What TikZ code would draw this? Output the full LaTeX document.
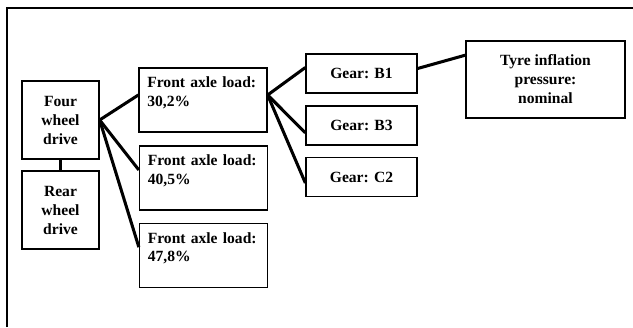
\documentclass[tikz,border=0pt]{standalone}
\usepackage{fontspec}
\setmainfont{Liberation Serif}
\begin{document}
\begin{tikzpicture}[x=0.03cm, y=-0.03cm,
  every node/.style={font=\bfseries\fontsize{13.3}{16.2}\selectfont},
  optbox/.style={draw,line width=1.1pt,align=center,inner sep=0pt},
  loadbox/.style={draw,line width=1.1pt,align=left,inner xsep=0.25cm,inner ysep=0.15cm,text width=3.34cm,text height=0.435cm,text depth=1.185cm},
  link/.style={line width=2.6pt}]
\useasboundingbox (0,0) rectangle (633,327);
% frame
\draw[line width=1.2pt] (7,327) -- (7,8) -- (633,8);
% drive
\node[optbox,minimum width=2.31cm,minimum height=2.34cm] (fwd) at (60.5,120) {Four\\ wheel\\ drive};
\node[optbox,minimum width=2.31cm,minimum height=2.34cm] (rwd) at (60.5,210) {Rear\\ wheel\\ drive};
\draw[link] (fwd.south) -- (rwd.north);
% front axle load
\node[loadbox] (fa1) at (203,100) {Front axle load:\\ 30,2\%};
\node[loadbox] (fa2) at (203.5,178) {Front axle load:\\ 40,5\%};
\node[loadbox] (fa3) at (203.5,255.5) {Front axle load:\\ 47,8\%};
\draw[link] (fwd.east) -- ([yshift=0.15cm]fa1.west);
\draw[link] (fwd.east) -- ([yshift=0.24cm]fa2.west);
\draw[link] (fwd.east) -- ([yshift=0.25cm]fa3.west);
% gears
\node[optbox,minimum width=3.33cm,minimum height=1.17cm] (b1) at (361.5,73.5) {Gear: B1};
\node[optbox,minimum width=3.33cm,minimum height=1.17cm] (b3) at (361.5,125.5) {Gear: B3};
\node[optbox,minimum width=3.33cm,minimum height=1.17cm] (c2) at (361.5,177) {Gear: C2};
\draw[link] ([yshift=0.15cm]fa1.east) -- ([yshift=0.18cm]b1.west);
\draw[link] ([yshift=0.15cm]fa1.east) -- ([yshift=-0.22cm]b3.west);
\draw[link] ([yshift=0.15cm]fa1.east) -- ([yshift=-0.18cm]c2.west);
% tyre
\node[optbox,minimum width=4.77cm,minimum height=2.31cm] (tyre) at (545.5,79.5) {Tyre inflation\\ pressure:\\ nominal};
\draw[link] ([yshift=0.15cm]b1.east) -- ([yshift=0.73cm]tyre.west);
\end{tikzpicture}
\end{document}
